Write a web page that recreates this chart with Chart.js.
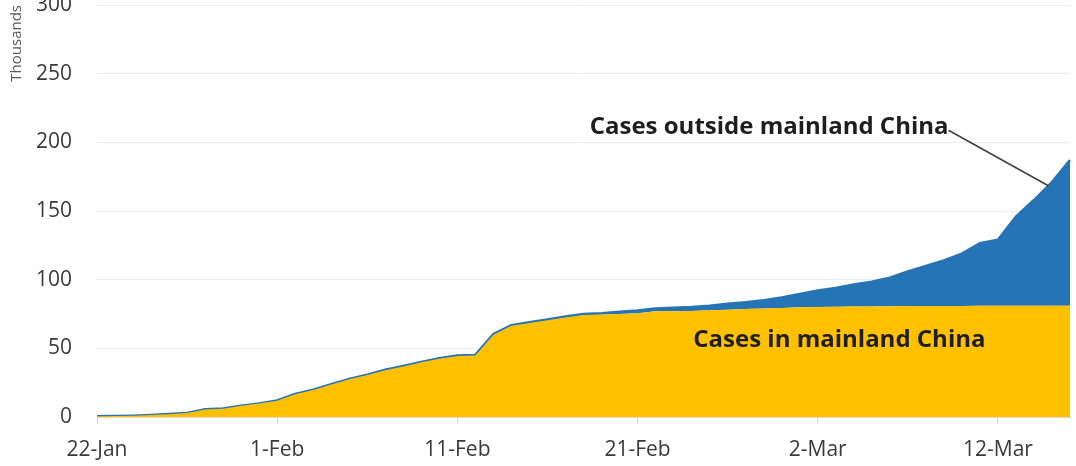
<!DOCTYPE html>
<html>
<head>
<meta charset="utf-8">
<script src="https://cdn.jsdelivr.net/npm/chart.js@4.4.1/dist/chart.umd.min.js"></script>
<style>
  html, body { margin: 0; padding: 0; background: #fff; }
  #wrap { width: 1076px; height: 466px; position: relative; }
</style>
</head>
<body>
<div id="wrap"><canvas id="grafico"></canvas></div>
<script>
// dates 22-Jan .. 16-Mar (2020)
var giorni = [
  '22-Jan','23-Jan','24-Jan','25-Jan','26-Jan','27-Jan','28-Jan','29-Jan','30-Jan','31-Jan',
  '1-Feb','2-Feb','3-Feb','4-Feb','5-Feb','6-Feb','7-Feb','8-Feb','9-Feb','10-Feb',
  '11-Feb','12-Feb','13-Feb','14-Feb','15-Feb','16-Feb','17-Feb','18-Feb','19-Feb','20-Feb',
  '21-Feb','22-Feb','23-Feb','24-Feb','25-Feb','26-Feb','27-Feb','28-Feb','29-Feb',
  '1-Mar','2-Mar','3-Mar','4-Mar','5-Mar','6-Mar','7-Mar','8-Mar','9-Mar','10-Mar',
  '11-Mar','12-Mar','13-Mar','14-Mar','15-Mar','16-Mar'
];

// cases in mainland China, thousands
var casiCina = [
  0.55, 0.64, 0.92, 1.41, 2.08, 2.88, 5.51, 6.09, 8.14, 9.80,
  11.89, 16.63, 19.72, 23.71, 27.44, 30.59, 34.11, 36.81, 39.83, 42.35,
  44.39, 44.76, 59.90, 66.36, 68.41, 70.51, 72.43, 74.21, 74.62, 75.08,
  75.55, 77.00, 77.02, 77.24, 77.75, 78.17, 78.60, 78.93, 79.36,
  79.93, 80.14, 80.26, 80.39, 80.54, 80.69, 80.77, 80.82, 80.86, 80.89,
  80.92, 80.93, 80.95, 80.98, 81.00, 81.03
];

// cases outside mainland China, thousands
var casiFuori = [
  0.01, 0.01, 0.02, 0.03, 0.04, 0.05, 0.07, 0.08, 0.10, 0.12,
  0.14, 0.15, 0.16, 0.18, 0.20, 0.23, 0.26, 0.30, 0.32, 0.36,
  0.39, 0.43, 0.45, 0.49, 0.53, 0.55, 0.72, 0.80, 0.89, 1.6,
  2.0, 2.0, 2.5, 2.8, 3.3, 4.3, 4.9, 6.1, 7.6,
  9.6, 11.9, 13.7, 16.1, 18.0, 20.8, 25.2, 29.2, 33.1, 38.1,
  45.7, 48.1, 65.0, 77.0, 90.0, 106.0
];

var tickY = [0, 50, 100, 150, 200, 250, 300];

var notaFuori = { testo: 'Cases outside mainland China', giorno: 37.3, valore: 211, punta: 52.8, puntaGiorno: 52.8 };
var notaCina = { testo: 'Cases in mainland China', giorno: 41.2, valore: 56 };

var note = {
  id: 'note',
  afterDatasetsDraw: function (chart) {
    var ctx = chart.ctx;
    var x = chart.scales.x;
    var y = chart.scales.y;
    ctx.save();
    ctx.font = 'bold 24px "Open Sans"';
    ctx.fillStyle = '#1e1e1e';
    ctx.textAlign = 'center';
    ctx.textBaseline = 'middle';

    var fx = x.getPixelForValue(notaFuori.giorno);
    var fy = y.getPixelForValue(notaFuori.valore);
    ctx.fillText(notaFuori.testo, fx, fy);
    var w = ctx.measureText(notaFuori.testo).width;

    // leader line to the top of the blue area (between 14-Mar and 15-Mar)
    var a = Math.floor(notaFuori.puntaGiorno);
    var t = notaFuori.puntaGiorno - a;
    var tot = (1 - t) * (casiCina[a] + casiFuori[a]) + t * (casiCina[a + 1] + casiFuori[a + 1]);
    ctx.strokeStyle = '#404040';
    ctx.lineWidth = 1.5;
    ctx.beginPath();
    ctx.moveTo(fx + w / 2, fy + 3);
    ctx.lineTo(x.getPixelForValue(notaFuori.punta), y.getPixelForValue(tot));
    ctx.stroke();

    ctx.fillText(notaCina.testo, x.getPixelForValue(notaCina.giorno), y.getPixelForValue(notaCina.valore));
    ctx.restore();
  }
};

var ctx = document.getElementById('grafico');
var chart = new Chart(ctx, {
  type: 'line',
  data: {
    labels: giorni,
    datasets: [{
      label: 'Cases in mainland China',
      data: casiCina,
      backgroundColor: '#FFC000',
      borderColor: '#FFC000',
      borderWidth: 0,
      fill: 'origin',
      pointRadius: 0,
      tension: 0
    }, {
      label: 'Cases outside mainland China',
      data: casiFuori,
      backgroundColor: '#2574B5',
      borderColor: '#2574B5',
      borderWidth: 2.5,
      fill: '-1',
      pointRadius: 0,
      tension: 0
    }]
  },
  options: {
    responsive: true,
    maintainAspectRatio: false,
    animation: false,
    layout: { padding: { top: 5, right: 6, left: 0, bottom: 0 } },
    plugins: {
      legend: { display: false },
      tooltip: { enabled: false }
    },
    scales: {
      x: {
        offset: false,
        grid: {
          drawOnChartArea: false,
          drawTicks: true,
          tickLength: 7,
          color: '#d9d9d9'
        },
        border: { color: '#d9d9d9' },
        ticks: {
          autoSkip: false,
          maxRotation: 0,
          padding: 13,
          color: '#3a3a3a',
          font: { family: 'Open Sans', size: 21 },
          callback: function (v, i) {
            return i % 10 === 0 ? giorni[i] : null;
          }
        },
        afterFit: function (s) {
          s.height = 49;
          s.paddingLeft = 0;
          s.paddingRight = 0;
        }
      },
      y: {
        stacked: true,
        min: 0,
        max: 300,
        afterBuildTicks: function (s) {
          s.ticks = tickY.map(function (v) { return { value: v }; });
        },
        grid: { color: '#ececec', drawTicks: false },
        border: { display: false },
        ticks: {
          padding: 25,
          color: '#3a3a3a',
          font: { family: 'Open Sans', size: 21 }
        },
        title: {
          display: true,
          text: 'Thousands',
          align: 'end',
          color: '#595959',
          font: { family: 'Open Sans', size: 15 },
          padding: { top: 8 }
        },
        afterFit: function (s) {
          s.width = 97;
          s.paddingTop = 0;
          s.paddingBottom = 0;
        }
      }
    }
  },
  plugins: [note]
});
</script>
</body>
</html>
